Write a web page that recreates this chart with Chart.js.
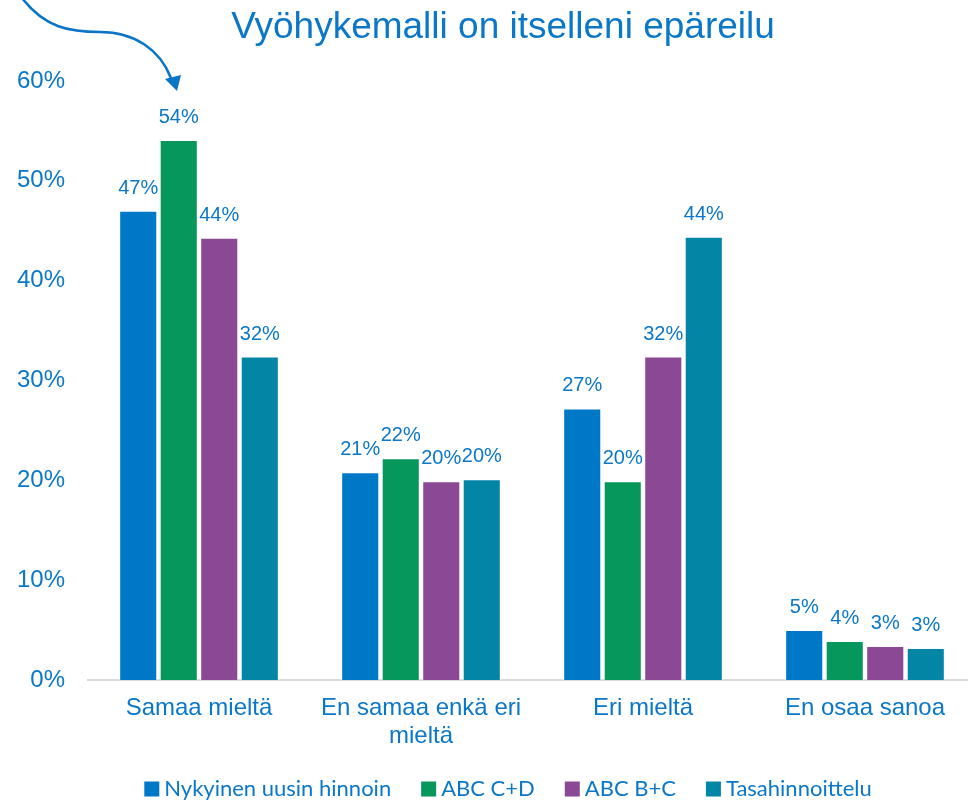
<!DOCTYPE html>
<html>
<head>
<meta charset="utf-8">
<script src="https://cdn.jsdelivr.net/npm/chart.js@4/dist/chart.umd.min.js"></script>
<style>
html,body{margin:0;padding:0;background:#fff;overflow:hidden;width:968px;height:800px;}
canvas{display:block;}
</style>
</head>
<body>
<canvas id="c" width="980" height="800"></canvas>
<script>
const titleText = "Vyöhykemalli on itselleni epäreilu";
const categories = ["Samaa mieltä", ["En samaa enkä eri", "mieltä"], "Eri mieltä", "En osaa sanoa"];
const seriesNames = ["Nykyinen uusin hinnoin", "ABC C+D", "ABC B+C", "Tasahinnoittelu"];
const nykyinen = [47.0, 20.8, 27.2, 5.0];
const abcCD = [54.1, 22.2, 19.9, 3.9];
const abcBC = [44.3, 19.9, 32.4, 3.4];
const tasahinnoittelu = [32.4, 20.1, 44.4, 3.2];
const seriesColors = ["#0078C8", "#05975B", "#8B4894", "#0385A6"];
const yTicks = [0, 10, 20, 30, 40, 50, 60];

const textBlue = "#0B77C7";
const FONT = "'Liberation Sans', Arial, sans-serif";
const LEGEND_FONT = "22px Lato, 'Liberation Sans', sans-serif";

const decoPlugin = {
  id: 'deco',
  afterDraw(chart) {
    const ctx = chart.ctx;
    ctx.save();
    // title
    ctx.fillStyle = textBlue;
    ctx.font = "37px " + FONT;
    ctx.textAlign = "center";
    ctx.textBaseline = "middle";
    ctx.fillText(titleText, 503, 28);
    // curved arrow
    ctx.strokeStyle = "#0A75C6";
    ctx.lineWidth = 2.6;
    ctx.beginPath();
    ctx.moveTo(22, -2);
    ctx.bezierCurveTo(45, 28, 70, 32, 100, 32);
    ctx.bezierCurveTo(135, 32, 160, 50, 171, 78);
    ctx.stroke();
    ctx.fillStyle = "#0A75C6";
    ctx.beginPath();
    ctx.moveTo(177, 91);
    ctx.lineTo(165, 79);
    ctx.lineTo(181, 75);
    ctx.closePath();
    ctx.fill();
    // data labels
    ctx.font = "20px " + FONT;
    ctx.fillStyle = textBlue;
    ctx.textAlign = "center";
    ctx.textBaseline = "alphabetic";
    chart.data.datasets.forEach((ds, di) => {
      const meta = chart.getDatasetMeta(di);
      meta.data.forEach((bar, i) => {
        ctx.fillText(Math.round(ds.data[i]) + "%", bar.x, bar.y - 17);
      });
    });
    // legend
    ctx.font = LEGEND_FONT;
    ctx.textAlign = "left";
    ctx.textBaseline = "middle";
    const box = 15, gapText = 5, gapItem = 30, cy = 789;
    const widths = seriesNames.map(n => box + gapText + ctx.measureText(n).width);
    const total = widths.reduce((a, b) => a + b, 0) + gapItem * (seriesNames.length - 1);
    let x = 508 - total / 2;
    seriesNames.forEach((n, i) => {
      ctx.fillStyle = seriesColors[i];
      ctx.fillRect(x, cy - box / 2, box, box);
      ctx.fillStyle = textBlue;
      ctx.fillText(n, x + box + gapText, cy);
      x += widths[i] + gapItem;
    });
    ctx.restore();
  }
};

const allSeries = [nykyinen, abcCD, abcBC, tasahinnoittelu];

new Chart(document.getElementById('c'), {
  type: 'bar',
  data: {
    labels: categories,
    datasets: allSeries.map((d, i) => ({
      label: seriesNames[i],
      data: d,
      backgroundColor: seriesColors[i],
      borderColor: "#ffffff",
      borderWidth: 1,
      categoryPercentage: 0.73,
      barPercentage: 0.94
    }))
  },
  options: {
    responsive: false,
    animation: false,
    layout: { padding: { top: 81, right: 4, left: 0, bottom: 0 } },
    plugins: {
      title: { display: false },
      tooltip: { enabled: false },
      legend: { display: false }
    },
    scales: {
      x: {
        grid: { display: false, drawTicks: false },
        border: { display: true, color: "#D9D9D9", width: 2 },
        ticks: { color: textBlue, font: { family: FONT, size: 24, lineHeight: 1.15 }, padding: 15, maxRotation: 0, autoSkip: false },
        afterFit(scale) { scale.height = 120; }
      },
      y: {
        min: 0,
        max: 60,
        afterBuildTicks(scale) { scale.ticks = yTicks.map(v => ({ value: v })); },
        grid: { display: false, drawTicks: false },
        border: { display: false },
        ticks: { color: textBlue, font: { family: FONT, size: 24 }, padding: 23, callback: v => v + "%" },
        afterFit(scale) { scale.width = 88; }
      }
    }
  },
  plugins: [decoPlugin]
});
</script>
</body>
</html>
